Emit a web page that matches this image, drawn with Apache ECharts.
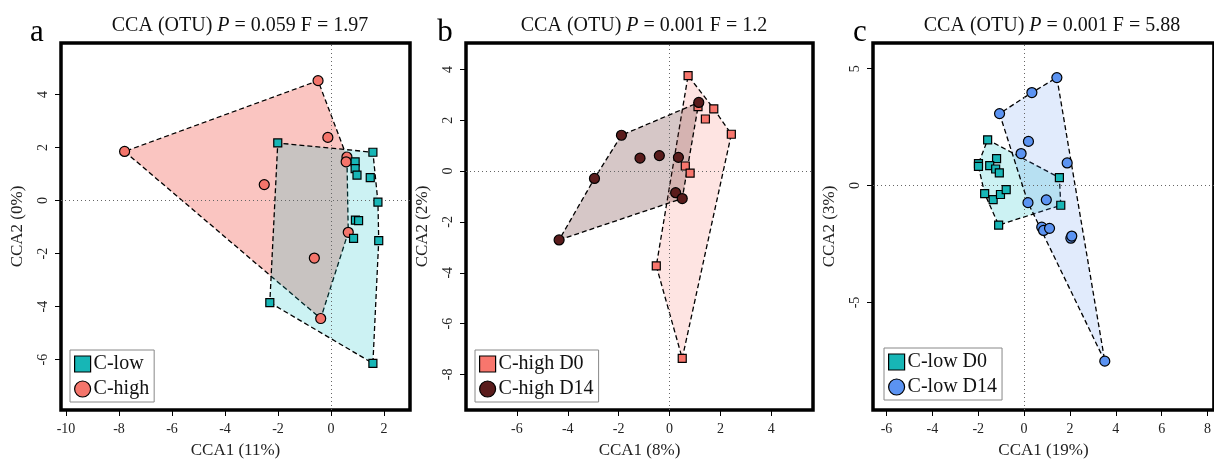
<!DOCTYPE html>
<html><head><meta charset="utf-8">
<script src="https://cdn.jsdelivr.net/npm/echarts@6/dist/echarts.min.js"></script>
<style>html,body{margin:0;padding:0;background:#fff}#c{width:1214px;height:464px}</style>
</head><body><div id="c"></div>
<script>
const FONT = "'Liberation Serif','Times New Roman',serif";

// ---------- DATA ----------
// Panel a
const aHigh = [[-0.49,4.52],[-7.79,1.85],[-0.12,2.38],[0.60,1.64],[0.57,1.46],[-2.52,0.60],[0.65,-1.20],[-0.63,-2.17],[-0.39,-4.45]];
const aLow = [[-2.01,2.17],[1.58,1.82],[0.91,1.46],[0.91,1.20],[0.98,0.96],[1.48,0.86],[1.77,-0.06],[0.92,-0.74],[1.04,-0.76],[0.85,-1.43],[1.80,-1.51],[-2.31,-3.85],[1.58,-6.14]];
const aXTicks = [-10,-8,-6,-4,-2,0,2];
const aYTicks = [-6,-4,-2,0,2,4];
// Panel b
const bD0 = [[0.73,3.76],[1.12,2.54],[1.74,2.45],[1.41,2.05],[2.43,1.45],[0.62,0.20],[0.81,-0.08],[-0.52,-3.73],[0.50,-7.37]];
const bD14 = [[1.15,2.70],[-1.89,1.41],[-1.16,0.51],[-0.40,0.61],[0.35,0.54],[-2.95,-0.29],[0.24,-0.85],[0.50,-1.08],[-4.34,-2.71]];
const bXTicks = [-6,-4,-2,0,2,4];
const bYTicks = [-8,-6,-4,-2,0,2,4];
// Panel c
const cD0 = [[-1.59,1.96],[-1.99,0.94],[-1.99,0.82],[-1.20,1.15],[-1.50,0.85],[-1.24,0.71],[-1.08,0.54],[1.54,0.34],[-1.72,-0.34],[-1.35,-0.60],[-1.03,-0.38],[-0.78,-0.17],[1.60,-0.84],[-1.11,-1.69]];
const cD14 = [[1.43,4.62],[0.34,3.98],[-1.07,3.08],[0.19,1.89],[-0.13,1.37],[1.88,0.97],[0.17,-0.73],[0.97,-0.61],[0.77,-1.78],[0.85,-1.92],[1.11,-1.83],[2.04,-2.25],[2.08,-2.16],[3.52,-7.51]];
const cXTicks = [-6,-4,-2,0,2,4,6,8];
const cYTicks = [-5,0,5];

const titles = [
  {letter:'a', p:'0.059', f:'1.97', xName:'CCA1 (11%)', yName:'CCA2 (0%)'},
  {letter:'b', p:'0.001', f:'1.2',  xName:'CCA1 (8%)',  yName:'CCA2 (2%)'},
  {letter:'c', p:'0.001', f:'5.88', xName:'CCA1 (19%)', yName:'CCA2 (3%)'}
];

// ---------- LAYOUT / STYLE ----------
const panels = [
  {grid:{left:61, top:43, width:349, height:369}, xr:[-10.19,2.98], yr:[-7.90,5.94], xt:aXTicks, yt:aYTicks,
   groups:[
     {name:'C-high', pts:aHigh, sym:'circle', size:10, color:'#F4756B', fill:'rgba(244,117,107,0.42)'},
     {name:'C-low', pts:aLow, sym:'rect', size:8, color:'#17B6B6', fill:'rgba(0,190,196,0.20)'}
   ], legendOrder:['C-low','C-high'], legendPos:{left:70, top:350}, letterX:32, titleX:235},
  {grid:{left:466, top:43, width:347, height:369}, xr:[-8.0,5.64], yr:[-9.40,5.04], xt:bXTicks, yt:bYTicks,
   groups:[
     {name:'C-high D0', pts:bD0, sym:'rect', size:8, color:'#F8766D', fill:'rgba(248,118,109,0.20)'},
     {name:'C-high D14', pts:bD14, sym:'circle', size:10, color:'#5A1C1C', fill:'rgba(92,30,30,0.25)'}
   ], legendOrder:['C-high D0','C-high D14'], legendPos:{left:475, top:350}, letterX:440, titleX:639},
  {grid:{left:873, top:43, width:348, height:368}, xr:[-6.59,8.28], yr:[-9.60,6.10], xt:cXTicks, yt:cYTicks,
   groups:[
     {name:'C-low D0', pts:cD0, sym:'rect', size:8, color:'#17B6B6', fill:'rgba(0,190,196,0.20)'},
     {name:'C-low D14', pts:cD14, sym:'circle', size:10, color:'#5B93F2', fill:'rgba(90,145,240,0.18)'}
   ], legendOrder:['C-low D0','C-low D14'], legendPos:{left:884, top:348}, letterX:855, titleX:1047}
];

function hull(points){
  const p = points.slice().sort((a,b)=>a[0]-b[0]||a[1]-b[1]);
  const cross=(o,a,b)=>(a[0]-o[0])*(b[1]-o[1])-(a[1]-o[1])*(b[0]-o[0]);
  const lower=[];for(const q of p){while(lower.length>=2&&cross(lower[lower.length-2],lower[lower.length-1],q)<=0)lower.pop();lower.push(q);}
  const upper=[];for(let i=p.length-1;i>=0;i--){const q=p[i];while(upper.length>=2&&cross(upper[upper.length-2],upper[upper.length-1],q)<=0)upper.pop();upper.push(q);}
  upper.pop();lower.pop();return lower.concat(upper);
}

const grid=[], xAxis=[], yAxis=[], series=[], legend=[], title=[];
panels.forEach((P,i)=>{
  grid.push(Object.assign({show:true, borderColor:'#000', borderWidth:3.5, backgroundColor:'transparent', containLabel:false}, P.grid));
  xAxis.push({gridIndex:i, type:'value', position:'bottom', min:P.xr[0], max:P.xr[1], name:titles[i].xName, nameLocation:'middle', nameGap:32,
    nameTextStyle:{fontFamily:FONT, fontSize:17, color:'#222'},
    axisLine:{show:false, onZero:false}, splitLine:{show:false},
    axisTick:{show:true, inside:false, length:6, lineStyle:{color:'#000', width:1}, customValues:P.xt},
    axisLabel:{show:true, margin:12, fontFamily:FONT, fontSize:14, color:'#222', customValues:P.xt, showMinLabel:true, showMaxLabel:true}});
  yAxis.push({gridIndex:i, type:'value', position:'left', min:P.yr[0], max:P.yr[1], name:titles[i].yName, nameLocation:'middle', nameGap:35,
    nameTextStyle:{fontFamily:FONT, fontSize:17, color:'#222'},
    axisLine:{show:false, onZero:false}, splitLine:{show:false},
    axisTick:{show:true, inside:false, length:6, lineStyle:{color:'#000', width:1}, customValues:P.yt},
    axisLabel:{show:true, margin:11, rotate:90, fontFamily:FONT, fontSize:14, color:'#222', customValues:P.yt}});
  P.groups.forEach((g,gi)=>{
    const h = hull(g.pts);
    series.push({type:'custom', xAxisIndex:i, yAxisIndex:i, silent:true, z:1+gi, clip:true,
      data:[[g.pts[0][0], g.pts[0][1]]],
      renderItem:(params, api)=>({type:'polygon', shape:{points:h.map(q=>api.coord(q))},
        style:{fill:g.fill, stroke:'#000', lineWidth:1.3, lineDash:[5,3]}})
    });
  });
  P.groups.forEach((g,gi)=>{
    const s = {type:'scatter', name:g.name, xAxisIndex:i, yAxisIndex:i, z:10, data:g.pts, symbol:g.sym, symbolSize:g.size,
      itemStyle:{color:g.color, borderColor:'#000', borderWidth:1.2, opacity:1}};
    if(gi===0){
      s.markLine = {silent:true, symbol:['none','none'], label:{show:false}, z:5,
        lineStyle:{type:[1,3], color:'#666', width:1}, emphasis:{disabled:true},
        data:[{xAxis:0},{yAxis:0}]};
    }
    series.push(s);
  });
  legend.push(Object.assign({orient:'vertical', itemWidth:16, itemHeight:16, itemGap:5, padding:[4,5,3,4],
    borderColor:'#888', borderWidth:1, backgroundColor:'#fff', selectedMode:false,
    textStyle:{fontFamily:FONT, fontSize:20, color:'#111', padding:[0,0,0,-2]},
    data:P.legendOrder.map(n=>{const g=P.groups.find(x=>x.name===n);return {name:n, icon:g.sym==='rect'?'rect':'circle', itemStyle:{color:g.color,borderColor:'#000',borderWidth:1.2}};})
  }, P.legendPos));
  title.push({text:'CCA (OTU) {i|P} = '+titles[i].p+' F = '+titles[i].f, left:P.titleX, top:11, textAlign:'center',
    textStyle:{fontFamily:FONT, fontSize:20, fontWeight:'normal', color:'#111', rich:{i:{fontFamily:FONT, fontSize:20, fontStyle:'italic', color:'#111'}}}});
  title.push({text:titles[i].letter, left:P.letterX, top:12, textAlign:'center',
    textStyle:{fontFamily:FONT, fontSize:31, fontWeight:'normal', color:'#000'}});
});

const chart = echarts.init(document.getElementById('c'), null, {renderer:'canvas'});
chart.setOption({animation:false, backgroundColor:'#fff', title, grid, xAxis, yAxis, legend, series});
</script>
</body></html>
